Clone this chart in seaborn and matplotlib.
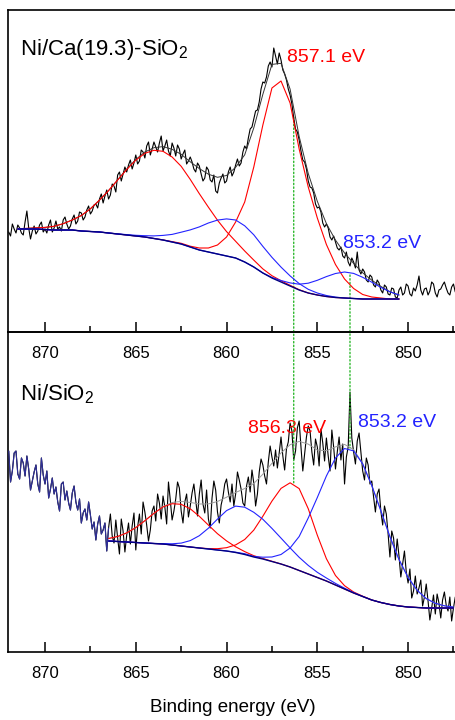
"""Spectres XPS Ni 2p3/2 : deux panneaux empilés avec composantes de fit."""

import numpy as np
import matplotlib
matplotlib.use('Agg')
import matplotlib.pyplot as plt
import seaborn as sns
from matplotlib.patches import ConnectionPatch
from matplotlib.ticker import MultipleLocator

# Grilles d'énergie (pas de mesure 0.1 eV, pas du fit 0.5 eV)
e_raw = np.round(np.arange(872.0, 847.35, -0.1), 1)
e_fit_top = np.round(np.arange(871.5, 850.4, -0.5), 1)
e_fit_bot = np.round(np.arange(866.5, 847.4, -0.5), 1)

# Ni/Ca(19.3)-SiO2 : signal brut (u.a.), une ligne = 1 eV
raw_top = [100, 96, 108, 103, 99, 107, 104, 99, 97, 110,
           121, 104, 93, 101, 106, 98, 101, 107, 110, 100,
           103, 99, 107, 112, 100, 104, 111, 103, 105, 101,
           112, 115, 108, 103, 106, 113, 117, 108, 111, 120,
           119, 112, 115, 122, 126, 118, 121, 127, 128, 124,
           133, 138, 129, 136, 142, 133, 137, 148, 146, 140,
           157, 160, 151, 158, 165, 160, 167, 172, 163, 169,
           177, 168, 171, 182, 180, 174, 186, 190, 177, 183,
           190, 185, 180, 189, 196, 181, 186, 192, 181, 176,
           189, 184, 176, 187, 183, 173, 178, 182, 168, 171,
           175, 170, 163, 160, 169, 166, 158, 151, 154, 165,
           162, 152, 150, 157, 141, 139, 149, 154, 158, 149,
           151, 160, 165, 156, 160, 167, 173, 166, 169, 180,
           186, 183, 194, 203, 205, 213, 221, 222, 230, 243,
           250, 249, 255, 266, 270, 265, 284, 276, 268, 279,
           272, 262, 258, 252, 243, 237, 228, 214, 203, 200,
           192, 181, 172, 170, 163, 151, 145, 144, 139, 128,
           124, 125, 120, 109, 105, 108, 104, 95, 92, 96,
           90, 84, 82, 85, 76, 74, 80, 70, 66, 74,
           70, 64, 80, 62, 58, 63, 60, 52, 50, 57,
           55, 47, 45, 52, 49, 42, 39, 47, 45, 38,
           37, 44, 43, 35, 34, 42, 45, 37, 39, 48,
           46, 38, 36, 44, 41, 47, 56, 42, 37, 43,
           44, 37, 41, 50, 48, 39, 35, 42, 43, 47,
           50, 44, 39, 37, 45, 48, 40]

bg_top = [103, 103, 103, 102.5, 102, 102, 102, 101, 100.5, 100,
          99, 98, 97, 96, 95, 93.5, 92, 90, 88, 85,
          82, 80, 78, 76, 74, 70, 65, 59, 54, 50,
          46, 42, 39, 37, 35.5, 34.5, 34, 33.5, 33, 33,
          33, 33, 33]
red1_top = [103.3, 103.6, 104.1, 104.6, 105.7, 108.3, 112, 116.5, 123.2, 131.9,
            141.4, 152, 162.5, 171.8, 178.7, 181.7, 180.7, 175, 165.7, 152.6,
            138.3, 124.8, 111.8, 100.4, 90.7, 81, 71.9, 63.1, 56.3, 51.3,
            46.7, 42.3, 39, 37, 35.5, 34.5, 34, 33.5, 33, 33,
            33, 33, 33]
blue1_top = [103, 103, 103, 102.5, 102, 102, 102, 101, 100.5, 100,
             99, 98.1, 97.4, 96.7, 96.3, 96.1, 96.6, 97.6, 99.8, 102.1,
             105.1, 109, 111.9, 113.1, 112, 106.2, 97.2, 85.6, 74.7, 64.9,
             56.1, 48.4, 42.7, 39, 36.5, 34.9, 34, 33.5, 33, 33,
             33, 33, 33]
red2_top = [103, 103, 103, 102.5, 102, 102, 102, 101, 100.5, 100,
            99, 98, 97, 96, 95, 93.5, 92.1, 90.4, 88.7, 85.8,
            84, 84, 87, 95, 110, 130, 165, 207, 244, 251,
            229, 183, 145, 114, 87.5, 67.5, 53, 43.5, 37.5, 35,
            34, 33, 33]
blue2_top = [103, 103, 103, 102.5, 102, 102, 102, 101, 100.5, 100,
             99, 98, 97, 96, 95, 93.5, 92, 90, 88, 85,
             82, 80, 78, 76, 74, 70, 65, 59, 54.6, 51.5,
             49.1, 47.8, 48.8, 51.7, 55.4, 58.5, 60, 58.6, 54.7, 49.8,
             44.6, 40.2, 37]
env_top = [103.3, 103.6, 104.1, 104.6, 105.7, 108.3, 112, 116.5, 123.2, 131.9,
           141.4, 152.1, 162.9, 172.5, 180, 184.3, 185.4, 182.7, 177.7, 170.2,
           163.4, 157.8, 154.7, 156.5, 164.7, 177.2, 204.1, 237.7, 267.6, 268.7,
           242.9, 195.5, 158.5, 130.7, 108.4, 91.9, 79, 68.6, 59.2, 51.8,
           45.6, 40.2, 37]

# Ni/SiO2 : signal brut (u.a.), une ligne = 1 eV
raw_bot = [201, 170, 181, 199, 201, 178, 173, 194, 189, 176,
           196, 183, 162, 171, 180, 187, 168, 160, 194, 177,
           168, 181, 154, 163, 174, 158, 165, 150, 141, 168,
           170, 152, 161, 149, 142, 159, 166, 150, 142, 153,
           129, 139, 143, 132, 150, 137, 123, 130, 112, 128,
           136, 118, 122, 129, 101, 124, 138, 116, 109, 132,
           114, 98, 133, 121, 100, 117, 129, 108, 126, 139,
           102, 125, 138, 118, 150, 140, 127, 111, 122, 141,
           146, 131, 158, 149, 133, 156, 145, 128, 170, 152,
           132, 141, 153, 170, 164, 141, 129, 150, 158, 135,
           146, 159, 168, 152, 136, 158, 172, 148, 139, 162,
           133, 124, 154, 171, 162, 140, 129, 147, 155, 168,
           173, 160, 150, 168, 146, 158, 180, 172, 163, 149,
           146, 166, 175, 160, 182, 169, 146, 158, 180, 193,
           187, 176, 168, 190, 206, 195, 186, 202, 184, 199,
           215, 196, 182, 203, 210, 229, 221, 192, 201, 224,
           231, 205, 181, 198, 215, 226, 221, 200, 187, 213,
           205, 186, 223, 209, 191, 214, 196, 181, 222, 205,
           183, 200, 215, 192, 208, 168, 195, 205, 260, 214,
           200, 188, 211, 219, 200, 181, 172, 194, 187, 168,
           171, 155, 140, 158, 163, 141, 127, 146, 138, 118,
           95, 121, 114, 92, 113, 96, 75, 88, 101, 80,
           69, 83, 54, 61, 76, 58, 64, 72, 46, 55,
           68, 51, 32, 44, 57, 38, 58, 49, 34, 52,
           60, 47, 41, 55, 31, 44, 55]

bg_bot = [111, 110.5, 110, 109.5, 109, 108.5, 108, 107, 106, 105,
          104, 103, 102, 101, 99.5, 97.5, 95, 93, 90.5, 88,
          85, 81.5, 78, 74.5, 71, 67, 63, 59, 55.5, 52,
          49.5, 47.5, 46, 45, 44.5, 44, 44, 44, 44]
red1_bot = [113.5, 115.5, 119.1, 124.4, 131.3, 138.7, 145.1, 148.3, 147.7, 143.2,
            135.7, 126.9, 118.3, 111.1, 105.2, 100.4, 96.3, 93.5, 90.7, 88,
            85, 81.5, 78, 74.5, 71, 67, 63, 59, 55.5, 52,
            49.5, 47.5, 46, 45, 44.5, 44, 44, 44, 44]
blue1_bot = [111, 110.5, 110, 109.5, 109, 108.5, 108.4, 108.2, 108.9, 111.4,
             116.3, 123.8, 132.9, 141.4, 145.9, 144.8, 139.7, 132.7, 123.6, 113.9,
             104.1, 94.7, 86.6, 79.7, 74, 68.6, 63.8, 59.4, 55.5, 52,
             49.5, 47.5, 46, 45, 44.5, 44, 44, 44, 44]
red2_bot = [111, 110.5, 110, 109.5, 109, 108.5, 108, 107, 106, 105,
            104, 103.4, 103.3, 104.3, 107.1, 112.5, 121.9, 135.8, 150.9, 163.6,
            169.2, 163.4, 143.3, 116.8, 93.3, 76.5, 66.3, 60, 55.8, 52,
            49.5, 47.5, 46, 45, 44.5, 44, 44, 44, 44]
blue2_bot = [111, 110.5, 110, 109.5, 109, 108.5, 108, 107, 106, 105,
             104, 103, 102, 101, 99.8, 98.3, 95.6, 94.8, 95, 97.5,
             104, 115.5, 134, 154.5, 176, 194, 203.5, 201.1, 188.1, 166.4,
             141.2, 115.3, 92.5, 74.5, 61.7, 53.4, 48.7, 46.2, 44.9]
env_bot = [113.5, 115.5, 119.1, 124.4, 131.3, 138.7, 145.5, 149.5, 150.6, 149.6,
           148, 148.1, 150.5, 154.8, 159.5, 163.5, 168.5, 177.8, 188.7, 199,
           207.3, 210.6, 207.9, 202, 201.3, 205.1, 207.6, 202.5, 188.4, 166.4,
           141.2, 115.3, 92.5, 74.5, 61.7, 53.4, 48.7, 46.2, 44.9]

# Positions des pics annotés (eV)
peaks_top = [(857.1, 'red'), (853.2, 'blue')]
peaks_bot = [(856.3, 'red'), (853.2, 'blue')]

RED = '#ff0000'
BLUE = '#2323ff'
NAVY = '#000080'


def line(ax, x, y, color, lw, z=2):
    sns.lineplot(x=x, y=y, ax=ax, color=color, linewidth=lw,
                 estimator=None, sort=False, legend=False, zorder=z)


def main():
    assert len(raw_top) == len(e_raw) == len(raw_bot)
    assert len(env_top) == len(e_fit_top) and len(env_bot) == len(e_fit_bot)

    sns.set_style('ticks')
    plt.rcParams['font.family'] = ['Liberation Sans', 'DejaVu Sans']
    plt.rcParams['mathtext.default'] = 'regular'
    for k in ('text.color', 'axes.labelcolor', 'xtick.color', 'ytick.color'):
        plt.rcParams[k] = 'black'

    fig = plt.figure(figsize=(4.56, 7.2), dpi=100, facecolor='white')
    ax_top = fig.add_axes([8 / 456, 1 - 332 / 720, 450 / 456, 322 / 720])
    ax_bot = fig.add_axes([8 / 456, 1 - 652 / 720, 450 / 456, 320 / 720])
    ax_top.set_zorder(2)

    # Panneau du haut
    line(ax_top, e_raw, raw_top, 'black', 0.8)
    line(ax_top, e_fit_top, env_top, '#333333', 0.7, 3)
    line(ax_top, e_fit_top, red1_top, RED, 0.8, 3)
    line(ax_top, e_fit_top, red2_top, RED, 0.8, 3)
    line(ax_top, e_fit_top, blue1_top, BLUE, 0.8, 3)
    line(ax_top, e_fit_top, blue2_top, BLUE, 0.8, 3)
    line(ax_top, e_fit_top, bg_top, NAVY, 1.0, 4)

    # Panneau du bas
    line(ax_bot, e_raw, raw_bot, 'black', 0.8)
    line(ax_bot, e_raw[:56], raw_bot[:56], '#30309a', 0.8, 3)
    line(ax_bot, e_fit_bot, env_bot, '#9a9a9a', 0.7, 3)
    line(ax_bot, e_fit_bot, red1_bot, RED, 0.8, 3)
    line(ax_bot, e_fit_bot, red2_bot, RED, 0.8, 3)
    line(ax_bot, e_fit_bot, blue1_bot, BLUE, 0.8, 3)
    line(ax_bot, e_fit_bot, blue2_bot, BLUE, 0.8, 3)
    line(ax_bot, e_fit_bot, bg_bot, NAVY, 1.0, 4)

    for ax, ymax in ((ax_top, 322), (ax_bot, 320)):
        ax.set_facecolor('none')
        ax.set_xlim(872.04, 847.25)
        ax.set_ylim(0, ymax)
        ax.set_yticks([])
        ax.set_ylabel('')
        ax.set_xlabel('')
        ax.xaxis.set_major_locator(MultipleLocator(5))
        ax.xaxis.set_minor_locator(MultipleLocator(2.5))
        ax.tick_params(axis='x', which='major', direction='in', length=7,
                       width=1.1, labelsize=12, pad=10)
        ax.tick_params(axis='x', which='minor', direction='in', length=4,
                       width=1.1)
        for s in ax.spines.values():
            s.set_linewidth(1.2)
            s.set_color('black')

    ax_bot.set_xlabel('Binding energy (eV)', fontsize=13.5, labelpad=13)

    # Étiquettes
    ax_top.text(871.38, 277, 'Ni/Ca(19.3)-SiO$_2$', fontsize=16,
                ha='left', va='baseline')
    ax_top.text(856.67, 270, f'{peaks_top[0][0]} eV', color=RED,
                fontsize=14, ha='left', va='baseline')
    ax_top.text(853.58, 84, f'{peaks_top[1][0]} eV', color=BLUE,
                fontsize=14, ha='left', va='baseline')
    ax_bot.text(871.38, 252, 'Ni/SiO$_2$', fontsize=16,
                ha='left', va='baseline')
    ax_bot.text(858.82, 219, f'{peaks_bot[0][0]} eV', color=RED,
                fontsize=14, ha='left', va='baseline')
    ax_bot.text(852.76, 225, f'{peaks_bot[1][0]} eV', color=BLUE,
                fontsize=14, ha='left', va='baseline')

    # Lignes pointillées reliant les pics des deux panneaux
    for (xe, y_a, y_b) in ((peaks_bot[0][0], 215, 169), (peaks_bot[1][0], 57, 204)):
        con = ConnectionPatch(xyA=(xe, y_a), coordsA=ax_top.transData,
                              xyB=(xe, y_b), coordsB=ax_bot.transData,
                              color='#2db82d', linestyle=':', linewidth=1.0,
                              zorder=1.5)
        fig.add_artist(con)

    fig.savefig('out.png', dpi=100, facecolor='white')


if __name__ == '__main__':
    main()
